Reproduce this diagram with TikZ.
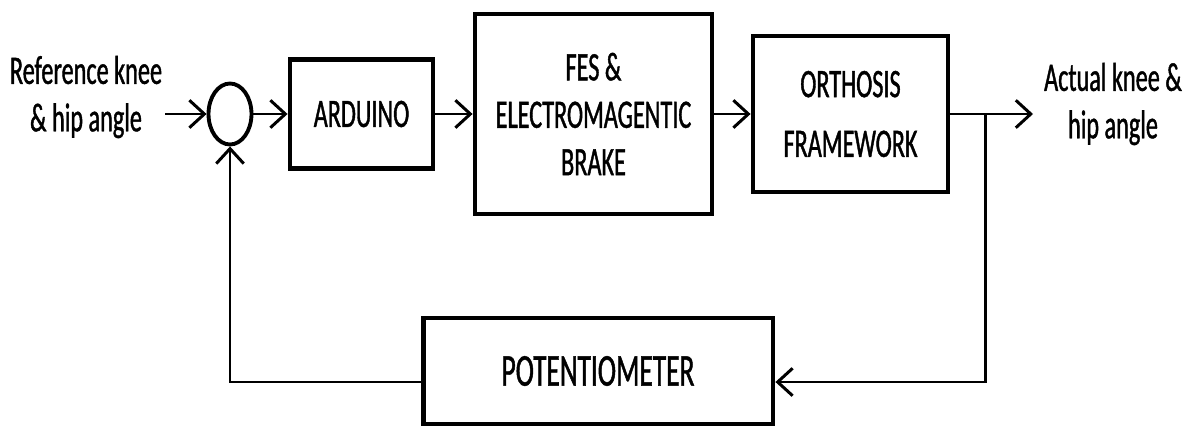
\documentclass[tikz,border=0pt]{standalone}
\usepackage{fontspec}
\setmainfont{Carlito}[FakeStretch=0.6, FakeBold=1]
\usetikzlibrary{arrows.meta}
\usetikzlibrary{shapes.geometric}

\tikzset{
	block/.style={draw, line width=2.8pt, align=center, inner sep=0pt,
		font=\fontsize{23}{27}\selectfont},
	sumnode/.style={draw, ellipse, line width=2.2pt, inner sep=0pt,
		minimum width=0.86cm, minimum height=1.22cm},
	label/.style={align=center, inner sep=0pt, font=\fontsize{23}{27}\selectfont},
	wire/.style={line width=1.7pt},
	flow/.style={wire, -{Straight Barb[length=0.3cm, width=0.55cm]}}
}

\begin{document}
\begin{tikzpicture}[x=0.02cm, y=-0.02cm]

\useasboundingbox (0, 0) rectangle (1189, 426);

% forward path
\node[sumnode] (sum) at (230, 114) {};
\node[block, minimum width=2.86cm, minimum height=2.18cm] (ard) at (361.5, 114) {ARDUINO};
\node[block, minimum width=4.74cm, minimum height=4.0cm] (fes) at (593.5, 114)
	{FES \&\\ELECTROMAGENTIC\\BRAKE};
\node[block, minimum width=3.9cm, minimum height=3.12cm,
	font=\fontsize{23}{34}\selectfont] (ort) at (850.5, 114) {ORTHOSIS\\FRAMEWORK};

% feedback path
\node[block, minimum width=7.0cm, minimum height=2.12cm,
	font=\fontsize{26}{30}\selectfont] (pot) at (598, 371) {POTENTIOMETER};

% signals
\node[label] (ref) at (86, 97) {Reference knee\\\& hip angle};
\node[label] (act) at (1113, 104) {Actual knee \&\\hip angle};
\coordinate (in) at (165, 114);
\coordinate (out) at (1033, 114);
\coordinate (br) at (985, 114);
\coordinate (fb) at (985, 382);

\draw[flow] (in) -- (sum.west);
\draw[flow] (sum.east) -- (ard.west);
\draw[flow] (ard.east) -- (fes.west);
\draw[flow] (fes.east) -- (ort.west);
\draw[flow] (ort.east) -- (out);
\draw[flow] (br) -- (fb) -- (fb -| pot.east);
\draw[flow] (fb -| pot.west) -| (sum.south);

\end{tikzpicture}
\end{document}
